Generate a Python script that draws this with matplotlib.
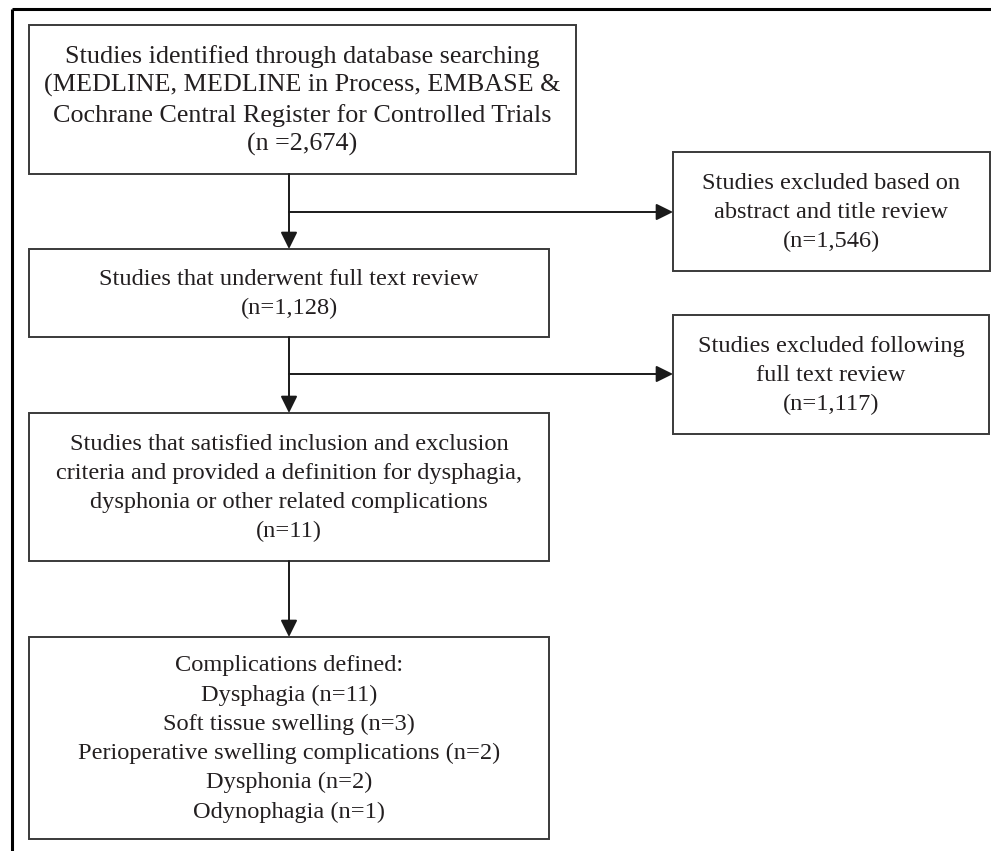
import matplotlib
matplotlib.use("Agg")
import matplotlib.pyplot as plt
from matplotlib.patches import Rectangle, FancyArrowPatch

W, H = 991, 851

# Box texts
box_texts = [
    "Studies identified through database searching\n(MEDLINE, MEDLINE in Process, EMBASE &\nCochrane Central Register for Controlled Trials\n(n =2,674)",
    "Studies that underwent full text review\n(n=1,128)",
    "Studies that satisfied inclusion and exclusion\ncriteria and provided a definition for dysphagia,\ndysphonia or other related complications\n(n=11)",
    "Complications defined:\nDysphagia (n=11)\nSoft tissue swelling (n=3)\nPerioperative swelling complications (n=2)\nDysphonia (n=2)\nOdynophagia (n=1)",
]
side_texts = [
    "Studies excluded based on\nabstract and title review\n(n=1,546)",
    "Studies excluded following\nfull text review\n(n=1,117)",
]

# layout (pixel coordinates: x0, y0, x1, y1)
main_boxes = [(29, 25, 576, 174), (29, 249, 549, 337), (29, 413, 549, 561), (29, 637, 549, 839)]
side_boxes = [(673, 152, 990, 271), (673, 315, 989, 434)]
branch_y = [212, 374]
stem_x = 289

fig = plt.figure(figsize=(W / 100, H / 100), dpi=100)
ax = fig.add_axes([0, 0, 1, 1])
ax.set_xlim(0, W)
ax.set_ylim(H, 0)
ax.axis("off")

font_big = dict(family="Liberation Serif", fontsize=18.8, color="#231f20", linespacing=1.35)
font = dict(family="Liberation Serif", fontsize=17.6, color="#231f20", linespacing=1.50)
edge = "#3a3a3a"

# outer frame (top and left)
ax.plot([12, W], [9, 9], color="black", lw=2.2, solid_capstyle="butt")
ax.plot([12, 12], [9, H], color="black", lw=2.2, solid_capstyle="butt")

def draw_box(b, txt, f):
    x0, y0, x1, y1 = b
    ax.add_patch(Rectangle((x0, y0), x1 - x0, y1 - y0, fill=False, ec=edge, lw=1.4))
    ax.text((x0 + x1) / 2, (y0 + y1) / 2 + 1, txt, ha="center", va="center", **f)

for i, (b, t) in enumerate(zip(main_boxes, box_texts)):
    draw_box(b, t, font_big if i == 0 else font)
for b, t in zip(side_boxes, side_texts):
    draw_box(b, t, font)

def arrow(p0, p1):
    a = FancyArrowPatch(p0, p1, arrowstyle="-|>,head_length=0.85,head_width=0.42",
                        mutation_scale=12, color="#1a1a1a", lw=1.4, shrinkA=0, shrinkB=0)
    ax.add_patch(a)

for i in range(3):
    top = main_boxes[i][3]
    bot = main_boxes[i + 1][1]
    arrow((stem_x, top), (stem_x, bot))
for i, y in enumerate(branch_y):
    arrow((stem_x, y), (side_boxes[i][0], y))

fig.savefig("out.png", dpi=100)
